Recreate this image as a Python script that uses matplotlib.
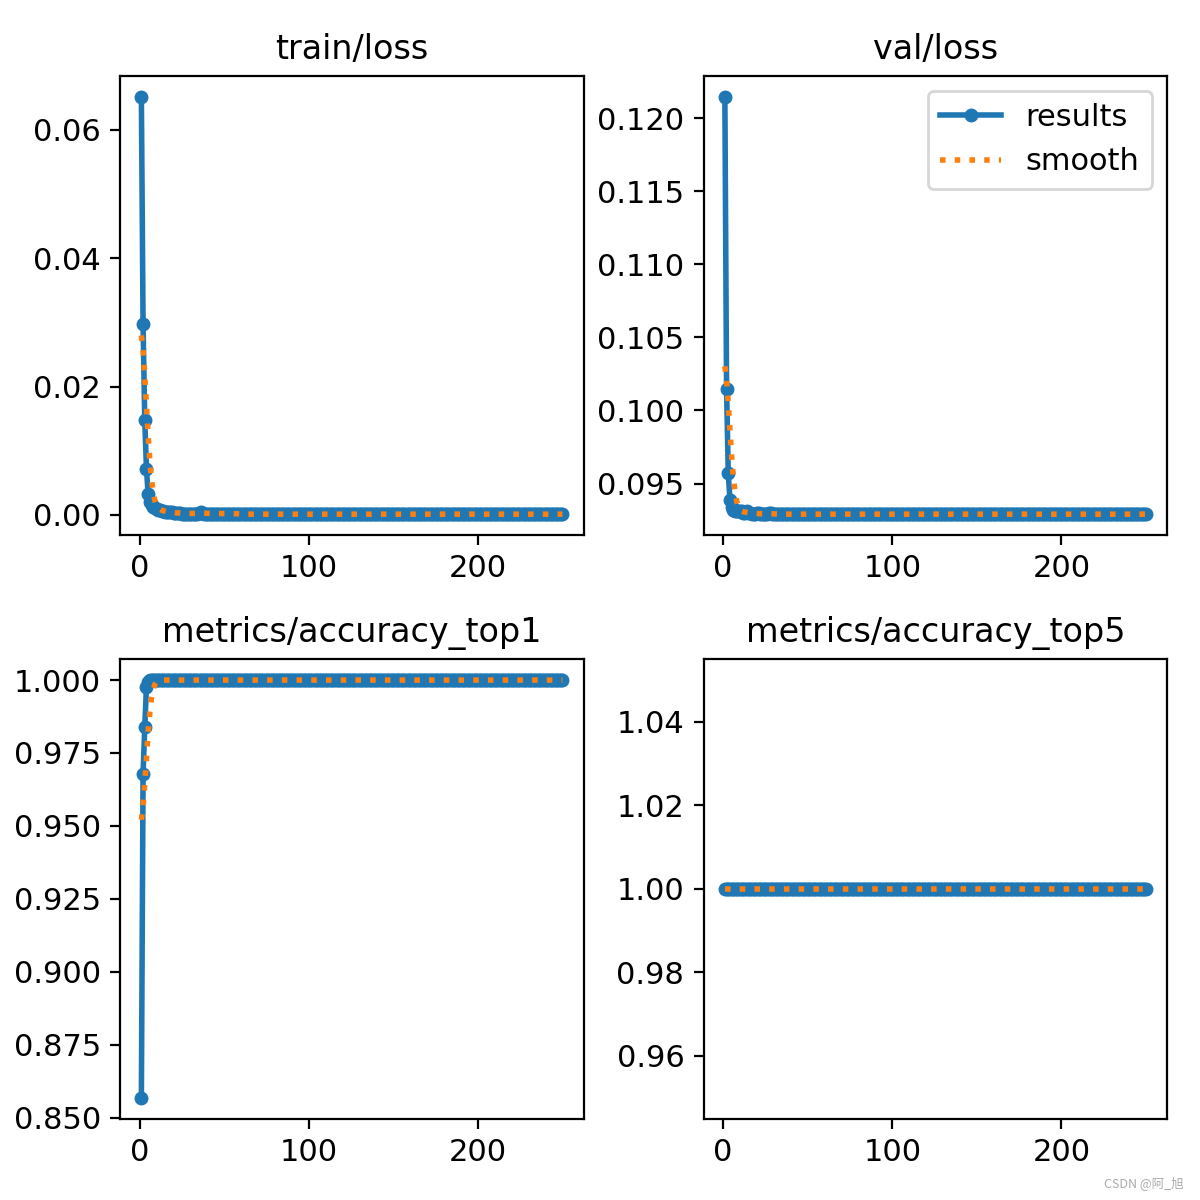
import numpy as np
import matplotlib
matplotlib.use("Agg")
import matplotlib.pyplot as plt

plt.rcParams["font.size"] = 11

# datos (250 epocas)
epochs = np.arange(1, 251)

train_loss = ([0.0652, 0.0297, 0.0148, 0.0072, 0.0032, 0.0020, 0.0015, 0.0012,
               0.0010, 0.0009, 0.0008, 0.0007, 0.0006, 0.0006, 0.0005, 0.0005,
               0.0004, 0.0004, 0.0004, 0.0003, 0.0003, 0.0003, 0.0003, 0.0003,
               0.0002, 0.0002, 0.0002, 0.0002, 0.0002, 0.0002, 0.0002, 0.0002,
               0.0002, 0.0002, 0.0003, 0.0004, 0.0003, 0.0002]
              + [0.0002] * 20 + [0.0001] * 192)

val_loss = ([0.1215, 0.1015, 0.0957, 0.0939, 0.0934, 0.0932, 0.0931, 0.0931,
             0.0931, 0.0931, 0.0931, 0.0930, 0.0930, 0.0931, 0.0930, 0.0930,
             0.0929, 0.0929, 0.0929, 0.0930, 0.0930, 0.0929, 0.0929, 0.0929,
             0.0929, 0.0929, 0.0930, 0.0930, 0.0929, 0.0929]
            + [0.0929] * 220)

acc_top1 = [0.8568, 0.9678, 0.9839, 0.9976, 0.9995] + [1.0] * 245
acc_top5 = [1.0] * 250

titles = ["train/loss", "val/loss", "metrics/accuracy_top1", "metrics/accuracy_top5"]
series = [train_loss, val_loss, acc_top1, acc_top5]


def gaussian_smooth(y, sigma=3, truncate=4.0):
    # equivalente a scipy gaussian_filter1d con mode='reflect'
    y = np.asarray(y, dtype=float)
    r = int(truncate * sigma + 0.5)
    k = np.exp(-0.5 * (np.arange(-r, r + 1) / sigma) ** 2)
    k /= k.sum()
    yp = np.pad(y, r, mode="symmetric")
    return np.convolve(yp, k, mode="valid")


fig, ax = plt.subplots(2, 2, figsize=(6, 6), tight_layout=True)
ax = ax.ravel()
for i, (t, y) in enumerate(zip(titles, series)):
    y = np.asarray(y, dtype=float)
    ax[i].plot(epochs, y, marker=".", label="results", linewidth=2, markersize=8)
    ax[i].plot(epochs, gaussian_smooth(y), ":", label="smooth", linewidth=2)
    ax[i].set_title(t, fontsize=12)
ax[1].legend()

# marca de agua
fig.text(0.986, 0.008, "CSDN @阿_旭", ha="right", va="bottom", fontsize=4.5,
         color="#aaaaaa", family=["Noto Sans CJK SC", "DejaVu Sans"])

fig.savefig("out.png", dpi=200)
